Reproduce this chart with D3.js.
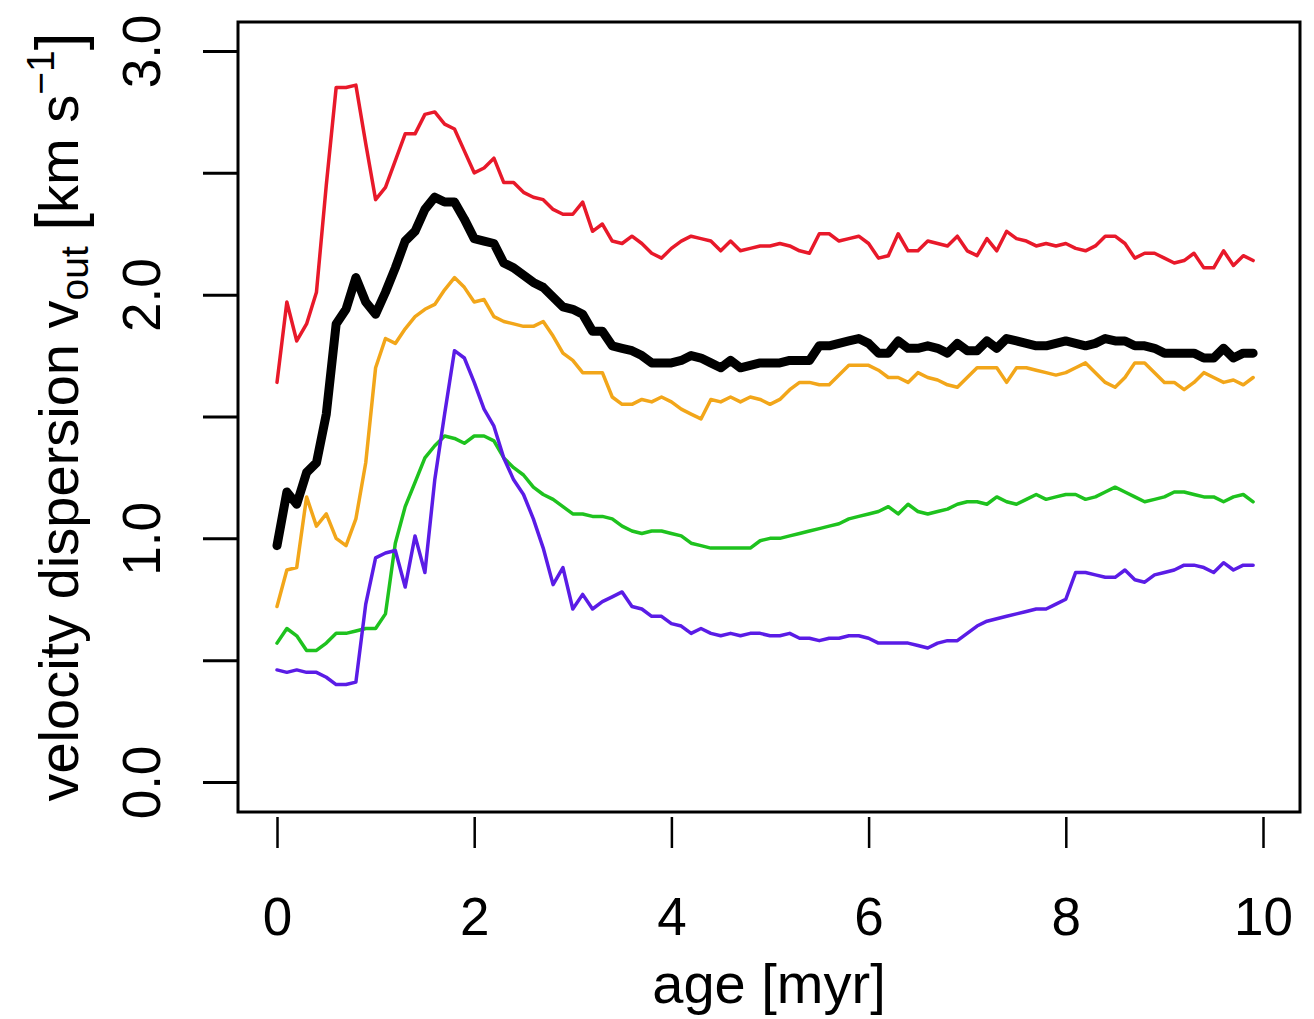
<html>
<head>
<script src="https://cdnjs.cloudflare.com/ajax/libs/d3/7.8.5/d3.min.js"></script>
<style>
  body { margin: 0; background: #fff; }
  text { font-family: "Liberation Sans", Arial, Helvetica, sans-serif; fill: #000; }
</style>
</head>
<body>
<svg id="vis"></svg>
<script>
// sample times [myr], one every 0.1 myr
const ages = d3.range(100).map(i => i / 10);

const redVals = [1.64,1.97,1.81,1.88,2.01,2.45,2.85,2.85,2.86,2.62,
  2.39,2.44,2.55,2.66,2.66,2.74,2.75,2.70,2.68,2.59,
  2.50,2.52,2.56,2.46,2.46,2.42,2.40,2.39,2.35,2.33,
  2.33,2.38,2.26,2.29,2.22,2.21,2.24,2.21,2.17,2.15,
  2.19,2.22,2.24,2.23,2.22,2.18,2.22,2.18,2.19,2.20,
  2.20,2.21,2.20,2.18,2.17,2.25,2.25,2.22,2.23,2.24,
  2.21,2.15,2.16,2.25,2.18,2.18,2.22,2.21,2.20,2.24,
  2.18,2.16,2.23,2.18,2.26,2.23,2.22,2.20,2.21,2.20,
  2.21,2.19,2.18,2.20,2.24,2.24,2.21,2.15,2.17,2.17,
  2.15,2.13,2.14,2.17,2.11,2.11,2.18,2.12,2.16,2.14];

const blackVals = [0.97,1.19,1.14,1.27,1.31,1.51,1.88,1.94,2.07,1.97,
  1.92,2.01,2.11,2.22,2.26,2.35,2.40,2.38,2.38,2.31,
  2.23,2.22,2.21,2.13,2.11,2.08,2.05,2.03,1.99,1.95,
  1.94,1.92,1.85,1.85,1.79,1.78,1.77,1.75,1.72,1.72,
  1.72,1.73,1.75,1.74,1.72,1.70,1.73,1.70,1.71,1.72,
  1.72,1.72,1.73,1.73,1.73,1.79,1.79,1.80,1.81,1.82,
  1.80,1.76,1.76,1.81,1.78,1.78,1.79,1.78,1.76,1.80,
  1.77,1.77,1.81,1.78,1.82,1.81,1.80,1.79,1.79,1.80,
  1.81,1.80,1.79,1.80,1.82,1.81,1.81,1.79,1.79,1.78,
  1.76,1.76,1.76,1.76,1.74,1.74,1.78,1.74,1.76,1.76];

const orangeVals = [0.72,0.87,0.88,1.17,1.05,1.10,1.00,0.97,1.08,1.31,
  1.70,1.82,1.80,1.86,1.91,1.94,1.96,2.02,2.07,2.03,
  1.97,1.98,1.91,1.89,1.88,1.87,1.87,1.89,1.83,1.76,
  1.73,1.68,1.68,1.68,1.58,1.55,1.55,1.57,1.56,1.58,
  1.56,1.53,1.51,1.49,1.57,1.56,1.58,1.56,1.58,1.57,
  1.55,1.57,1.61,1.64,1.64,1.63,1.63,1.67,1.71,1.71,
  1.71,1.69,1.66,1.66,1.64,1.68,1.66,1.65,1.63,1.62,
  1.66,1.70,1.70,1.70,1.64,1.70,1.70,1.69,1.68,1.67,
  1.68,1.70,1.72,1.68,1.64,1.62,1.66,1.72,1.72,1.68,
  1.64,1.64,1.61,1.64,1.68,1.66,1.64,1.65,1.63,1.66];

const greenVals = [0.57,0.63,0.60,0.54,0.54,0.57,0.61,0.61,0.62,0.63,
  0.63,0.69,0.98,1.13,1.23,1.33,1.38,1.42,1.41,1.39,
  1.42,1.42,1.40,1.33,1.29,1.26,1.21,1.18,1.16,1.13,
  1.10,1.10,1.09,1.09,1.08,1.05,1.03,1.02,1.03,1.03,
  1.02,1.01,0.98,0.97,0.96,0.96,0.96,0.96,0.96,0.99,
  1.00,1.00,1.01,1.02,1.03,1.04,1.05,1.06,1.08,1.09,
  1.10,1.11,1.13,1.10,1.14,1.11,1.10,1.11,1.12,1.14,
  1.15,1.15,1.14,1.17,1.15,1.14,1.16,1.18,1.16,1.17,
  1.18,1.18,1.16,1.17,1.19,1.21,1.19,1.17,1.15,1.16,
  1.17,1.19,1.19,1.18,1.17,1.17,1.15,1.17,1.18,1.15];

const purpleVals = [0.46,0.45,0.46,0.45,0.45,0.43,0.40,0.40,0.41,0.73,
  0.92,0.94,0.95,0.80,1.01,0.86,1.24,1.51,1.77,1.74,
  1.64,1.53,1.46,1.33,1.24,1.18,1.08,0.96,0.81,0.88,
  0.71,0.77,0.71,0.74,0.76,0.78,0.72,0.71,0.68,0.68,
  0.65,0.64,0.61,0.63,0.61,0.60,0.61,0.60,0.61,0.61,
  0.60,0.60,0.61,0.59,0.59,0.58,0.59,0.59,0.60,0.60,
  0.59,0.57,0.57,0.57,0.57,0.56,0.55,0.57,0.58,0.58,
  0.61,0.64,0.66,0.67,0.68,0.69,0.70,0.71,0.71,0.73,
  0.75,0.86,0.86,0.85,0.84,0.84,0.87,0.83,0.82,0.85,
  0.86,0.87,0.89,0.89,0.88,0.86,0.90,0.87,0.89,0.89];

const xTicks = [0, 2, 4, 6, 8, 10];
const yTicks = [0, 0.5, 1, 1.5, 2, 2.5, 3];

const series = [
  { vals: redVals, color: "#e8192a", width: 3.5 },
  { vals: orangeVals, color: "#f2a61a", width: 3.5 },
  { vals: greenVals, color: "#1ec21e", width: 3.5 },
  { vals: purpleVals, color: "#5a1ce6", width: 3.5 },
  { vals: blackVals, color: "#000000", width: 9 }
];

const W = 1314, H = 1019;
const box = { left: 238, right: 1300, top: 22, bottom: 812 };

let svg = d3.select('#vis').attr('width', W).attr('height', H);

let x = d3.scaleLinear().domain([0, 10]).range([277, 1263]);
let y = d3.scaleLinear().domain([0, 3]).range([782, 51]);

// lines
let line = d3.line()
  .x((d, i) => x(ages[i]))
  .y(d => y(d));

series.forEach(s => {
  svg.append('path')
    .datum(s.vals)
    .attr('d', line)
    .attr('fill', 'none')
    .attr('stroke', s.color)
    .attr('stroke-width', s.width)
    .attr('stroke-linejoin', 'round')
    .attr('stroke-linecap', 'round');
});

// box
svg.append('rect')
  .attr('x', box.left).attr('y', box.top)
  .attr('width', box.right - box.left).attr('height', box.bottom - box.top)
  .attr('fill', 'none').attr('stroke', '#000').attr('stroke-width', 3);

// x axis (R style: ticks below the box, no axis line)
let xAxis = d3.axisBottom(x).tickValues(xTicks).tickSize(31).tickFormat(d3.format('d'));
let gx = svg.append('g').attr('transform', `translate(0,${box.bottom + 5})`).call(xAxis);
gx.select('.domain').remove();
gx.selectAll('line').attr('stroke-width', 2.5);
gx.selectAll('text').attr('font-size', 53).attr('dy', null).attr('y', 0)
  .attr('transform', 'translate(0,118)');

// y axis
let yAxis = d3.axisLeft(y).tickValues(yTicks).tickSize(35).tickFormat(d => (Number.isInteger(d) ? d.toFixed(1) : ''));
let gy = svg.append('g').attr('transform', `translate(${box.left},0)`).call(yAxis);
gy.select('.domain').remove();
gy.selectAll('line').attr('stroke-width', 3);
gy.selectAll('text')
  .attr('font-size', 53)
  .attr('x', 0).attr('dy', null)
  .attr('text-anchor', 'middle')
  .attr('transform', 'translate(-78,0) rotate(-90)');

// x title
svg.append('text')
  .attr('x', (box.left + box.right) / 2)
  .attr('y', 1003)
  .attr('text-anchor', 'middle')
  .attr('font-size', 56)
  .text('age [myr]');

// y title with sub- and superscript
let yt = svg.append('text')
  .attr('transform', `translate(78,${(box.top + box.bottom) / 2}) rotate(-90)`)
  .attr('text-anchor', 'middle')
  .attr('font-size', 56);
yt.append('tspan').text('velocity dispersion v');
yt.append('tspan').attr('font-size', 39).attr('dy', 10).text('out');
yt.append('tspan').attr('dy', -10).text(' ');
yt.append('tspan').attr('font-size', 64).attr('dy', 3).text('[');
yt.append('tspan').attr('dy', -3).text('km s');
yt.append('tspan').attr('font-size', 39).attr('dy', -24).text('\u22121');
yt.append('tspan').attr('font-size', 64).attr('dy', 27).text(']');
</script>
</body>
</html>
